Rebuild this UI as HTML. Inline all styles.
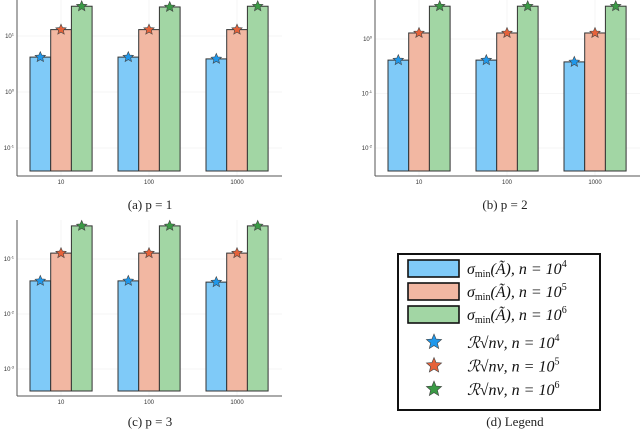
<!DOCTYPE html>
<html><head><meta charset="utf-8"><style>
body{margin:0;background:#fff;width:640px;height:433px;overflow:hidden}
svg{display:block}
.cap{font-family:"Liberation Serif",serif;font-size:13px;fill:#222}
.tk{font-family:"Liberation Sans",sans-serif;font-size:6px;fill:#333}
.lg{font-family:"Liberation Serif",serif;font-size:16px;fill:#111;font-style:italic}
</style></head><body>
<svg id="fig" width="640" height="433"></svg>
<script>
const categories=["10","100","1000"];
const seriesNames=["n=10^4","n=10^5","n=10^6"];
const pa_n4=[4.2,4.2,3.9], pa_n5=[13,13,13], pa_n6=[34,33,34];
const pb_n4=[0.41,0.41,0.38], pb_n5=[1.29,1.29,1.29], pb_n6=[4.0,4.0,4.0];
const pc_n4=[0.040,0.040,0.038], pc_n5=[0.128,0.128,0.128], pc_n6=[0.40,0.40,0.40];
const pa_ticks=[1,0,-1], pb_ticks=[0,-1,-2], pc_ticks=[-1,-2,-3];
const colors=["#7fcaf8","#f2b7a2","#a2d6a4"], starCol=["#1f98ec","#e6623a","#3a9a45"];
const NS="http://www.w3.org/2000/svg", svg=document.getElementById("fig");
function el(t,a,p){const e=document.createElementNS(NS,t);for(const k in a)e.setAttribute(k,a[k]);(p||svg).appendChild(e);return e;}
function star(cx,cy,r,fill,g){let pts=[];for(let i=0;i<10;i++){const rr=i%2?r*0.45:r,an=-Math.PI/2+i*Math.PI/5;pts.push((cx+rr*Math.cos(an)).toFixed(1)+","+(cy+rr*Math.sin(an)).toFixed(1));}
return el("polygon",{points:pts.join(" "),fill:fill,stroke:"#444","stroke-width":0.6},g);}
function panel(name,ox,oy,topTickY,dec,ticks,series,cap,capX,capY){
 const g=el("g",{});
 const axL=ox+17, axR=ox+282, axY=oy+176, barBot=oy+171;
 const y=v=>topTickY+(ticks[0]-Math.log10(v))*dec;
 const groupX=[ox+30,ox+118,ox+206];
 ticks.forEach((t,i)=>{const ty=topTickY+i*dec;
  el("line",{x1:axL,x2:axR,y1:ty,y2:ty,stroke:"#eee","stroke-width":0.6},g);
  const tx=el("text",{x:axL-3,y:ty+2,"text-anchor":"end",class:"tk"},g);tx.textContent="10";
  const sp=el("tspan",{dy:-2.5,"font-size":4},tx);sp.textContent=String(t);});
 categories.forEach((c,i)=>{const cx=groupX[i]+31;
  el("line",{x1:cx,x2:cx,y1:oy,y2:axY,stroke:"#eee","stroke-width":0.6},g);
  const t=el("text",{x:cx,y:axY+8,"text-anchor":"middle",class:"tk"},g);t.textContent=c;
  series.forEach((s,j)=>{const x0=groupX[i]+j*20.7,top=y(s[i]);
   const r=el("rect",{x:x0,y:top,width:20.7,height:barBot-top,fill:colors[j],stroke:"#333","stroke-width":1},g);
   
   const st=star(x0+10.3,top,5.5,starCol[j],g);
   });});
 el("line",{x1:axL,x2:axL,y1:oy,y2:axY,stroke:"#555","stroke-width":1},g);
 el("line",{x1:axL,x2:axR,y1:axY,y2:axY,stroke:"#555","stroke-width":1},g);
 const ct=el("text",{x:capX,y:capY,"text-anchor":"middle",class:"cap"},g);ct.textContent=cap;
}
panel("panel-a",0,0,36,56,pa_ticks,[pa_n4,pa_n5,pa_n6],"(a) p = 1",150,209);
panel("panel-b",358,0,39,54.5,pb_ticks,[pb_n4,pb_n5,pb_n6],"(b) p = 2",505,209);
panel("panel-c",0,220,259,55,pc_ticks,[pc_n4,pc_n5,pc_n6],"(c) p = 3",150,426);
// legend
const lg=el("g",{});
el("rect",{x:398,y:254,width:202,height:156,fill:"#fff",stroke:"#111","stroke-width":2},lg);
const sup=["4","5","6"];
for(let j=0;j<3;j++){const ry=260+j*23;
 el("rect",{x:408,y:ry,width:51,height:17,fill:colors[j],stroke:"#111","stroke-width":1.6},lg);
 const t=el("text",{x:467,y:ry+14,class:"lg"},lg);t.textContent="σ";
 const s1=el("tspan",{"font-size":10,"font-style":"normal",dy:3},t);s1.textContent="min";
 const s2=el("tspan",{dy:-3},t);s2.textContent="(Ã), n = 10";
 const s3=el("tspan",{"font-size":10,"font-style":"normal",dy:-7},t);s3.textContent=sup[j];
 star(434,342+j*23.5,8,starCol[j],lg);
 const t2=el("text",{x:467,y:348+j*23.5,class:"lg"},lg);t2.textContent="ℛ√nν, n = 10";
 const s4=el("tspan",{"font-size":10,"font-style":"normal",dy:-7},t2);s4.textContent=sup[j];}
const dc=el("text",{x:515,y:426,"text-anchor":"middle",class:"cap"});dc.textContent="(d) Legend";
</script>
</body></html>
